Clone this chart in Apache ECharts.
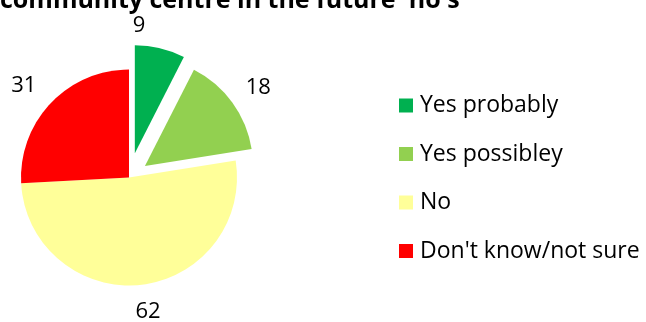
<!DOCTYPE html>
<html>
<head>
<meta charset="utf-8">
<script src="https://cdn.jsdelivr.net/npm/echarts@6/dist/echarts.min.js"></script>
<style>
  html, body { margin: 0; padding: 0; background: #ffffff; }
  #chart { width: 646px; height: 322px; }
</style>
</head>
<body>
<div id="chart"></div>
<script>
// Survey answers and their counts
const categories = ['Yes probably', 'Yes possibley', 'No', "Don't know/not sure"];
const values = [9, 18, 62, 31];
const sliceColors = ['#00B050', '#92D050', '#FFFF99', '#FF0000'];
const titleText = "community centre in the future' no's";

// How far (px) each slice is pulled out of the pie
const pullOut = [25, 19.7, 0, 0];
// Small nudges for each value label (dx, dy)
const labelShift = [[-27, 3], [5, 1], [5, 1], [-8, 0]];

const FONT = '"Open Sans", "Liberation Sans", sans-serif';

// One pie layer per distinct pull-out distance; still slices go on the last layer
const layerOffsets = [...new Set(pullOut.filter(v => v > 0))];

const series = layerOffsets.map((offset, li) => {
  const isLast = li === layerOffsets.length - 1;
  return {
    type: 'pie',
    center: [129, 177.5],
    radius: 108,
    startAngle: 90,
    clockwise: true,
    avoidLabelOverlap: false,
    selectedMode: 'multiple',
    selectedOffset: offset,
    animation: false,
    silent: true,
    itemStyle: { borderWidth: 0 },
    label: {
      show: true,
      position: 'outside',
      formatter: '{c}',
      distanceToLabelLine: 0,
      color: '#000000',
      fontFamily: FONT,
      fontSize: 22
    },
    labelLine: { show: false, length: 26, length2: 0 },
    labelLayout: p => {
      // find the slice this label belongs to from its shown value
      const i = values.findIndex(v => String(v) === p.text);
      const s = labelShift[i] || [0, 0];
      return { align: 'center', dx: s[0], dy: s[1] };
    },
    emphasis: { disabled: true },
    data: categories.map((name, i) => {
      const visible = pullOut[i] === offset || (isLast && pullOut[i] === 0);
      return {
        name: name,
        value: values[i],
        selected: pullOut[i] === offset,
        itemStyle: { color: sliceColors[i], opacity: visible ? 1 : 0 },
        label: { show: visible }
      };
    })
  };
});

const chart = echarts.init(document.getElementById('chart'), null, { renderer: 'canvas' });
chart.setOption({
  backgroundColor: '#ffffff',
  animation: false,
  title: {
    text: titleText,
    left: 0,
    top: -12,
    padding: 0,
    textStyle: {
      fontFamily: FONT,
      fontSize: 25,
      lineHeight: 25,
      fontWeight: 'bold',
      color: '#000000'
    }
  },
  legend: {
    orient: 'vertical',
    left: 399,
    top: 94,
    padding: 0,
    itemWidth: 14,
    itemHeight: 14,
    itemGap: 25.5,
    icon: 'rect',
    selectedMode: false,
    textStyle: {
      fontFamily: FONT,
      fontSize: 23,
      lineHeight: 23,
      color: '#000000',
      padding: [0, 0, 0, 2]
    },
    data: categories.map((name, i) => ({
      name: name,
      itemStyle: { color: sliceColors[i], opacity: 1 }
    }))
  },
  series: series
});
</script>
</body>
</html>
